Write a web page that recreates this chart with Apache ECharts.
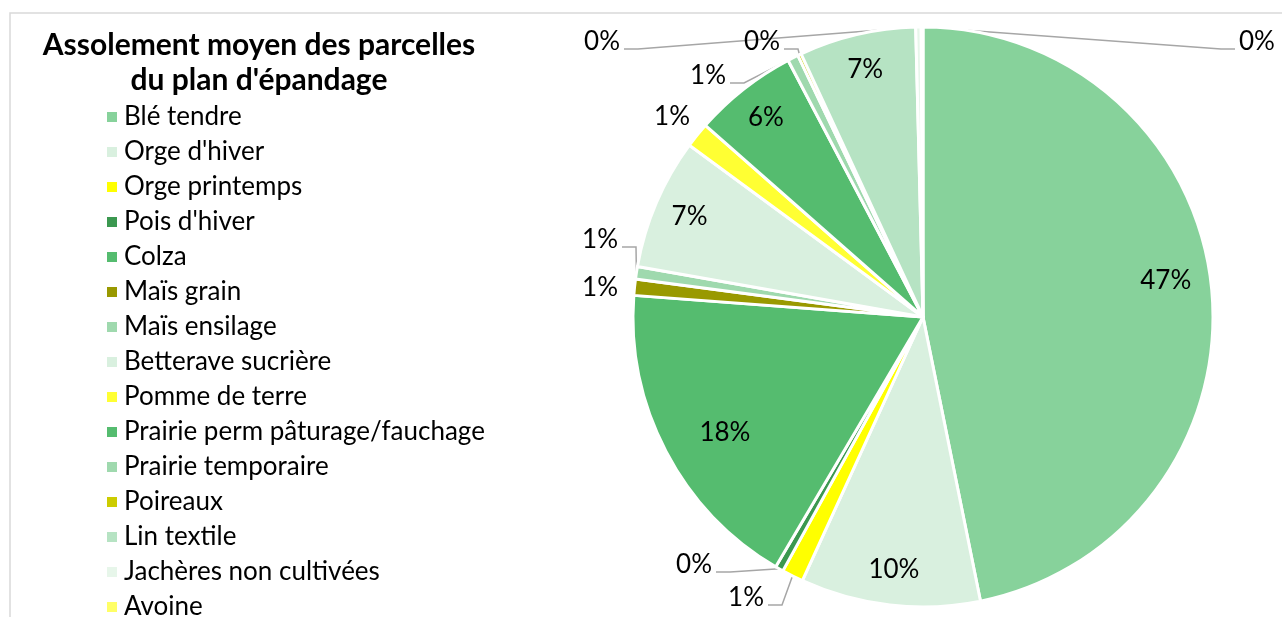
<!DOCTYPE html>
<html>
<head>
<meta charset="utf-8">
<script src="https://cdn.jsdelivr.net/npm/echarts@6/dist/echarts.min.js"></script>
<style>
  html, body { margin: 0; padding: 0; background: #fff; }
  #chart { width: 1282px; height: 617px; }
</style>
</head>
<body>
<div id="chart"></div>
<script>
// cultures du plan d'épandage (ordre Excel, sens horaire depuis midi)
const cultures = ['Blé tendre', "Orge d'hiver", 'Orge printemps', "Pois d'hiver", 'Colza', 'Maïs grain',
  'Maïs ensilage', 'Betterave sucrière', 'Pomme de terre', 'Prairie perm pâturage/fauchage',
  'Prairie temporaire', 'Poireaux', 'Lin textile', 'Jachères non cultivées', 'Avoine'];
// part de la surface en %
const parts = [46.8, 10.0, 1.2, 0.45, 17.7, 0.9, 0.7, 7.3, 1.4, 5.8, 0.6, 0.2, 6.5, 0.3, 0.1];
const couleurs = ['#87d29b', '#d9f0df', '#ffff00', '#3b9850', '#55bc6f', '#999900', '#9fd9ae',
  '#d9f0df', '#ffff33', '#55bc6f', '#9fd9ae', '#cccc00', '#b6e3c3', '#e7f6ea', '#ffff66'];

const FONT = 'Lato';
const grosses = parts.map(v => v >= 3);

// traits de rappel masqués (étiquette collée à la part)
const sansTrait = [5, 8];
// étiquettes placées comme dans Excel : [x, y, côté]
const etiquettes = {
  2: [764, 598, 'left'],
  3: [712, 565, 'left'],
  5: [618, 288, 'left'],
  6: [618, 240, 'left'],
  8: [690, 117, 'left'],
  10: [726, 76, 'left'],
  11: [780, 42, 'left'],
  13: [620, 42, 'left'],
  14: [1239, 42, 'right']
};
// petits décalages des étiquettes intérieures [dx, dy]
const decalages = { 0: [-10, -11], 4: [27, -2] };

let chart = echarts.init(document.getElementById('chart'));

let dataMain = cultures.map((c, i) => ({
  name: c,
  value: parts[i],
  itemStyle: { color: couleurs[i] },
  label: { show: !grosses[i] },
  labelLine: { show: !grosses[i] && sansTrait.indexOf(i) < 0 }
}));
let dataLabels = cultures.map((c, i) => ({
  name: c,
  value: parts[i],
  label: { show: grosses[i] }
}));

chart.setOption({
  animation: false,
  title: {
    text: "Assolement moyen des parcelles\ndu plan d'épandage",
    left: 254,
    top: 23,
    textAlign: 'center',
    textStyle: { fontFamily: FONT, fontWeight: 'bold', fontSize: 30, lineHeight: 35, color: '#000', align: 'center' }
  },
  legend: {
    orient: 'vertical',
    left: 100,
    top: 99,
    height: 900,
    itemWidth: 12,
    itemHeight: 12,
    itemGap: 9,
    icon: 'rect',
    data: cultures,
    textStyle: { fontFamily: FONT, fontSize: 26, lineHeight: 25, color: '#000', padding: [0, 0, 0, 1] }
  },
  graphic: [{
    type: 'polyline',
    shape: { points: [[10, 617], [10, 13], [1282, 13]] },
    style: { stroke: '#d9d9d9', lineWidth: 1.5, fill: null },
    silent: true
  }],
  series: [{
    type: 'pie',
    center: [923, 317],
    radius: [0, 290],
    startAngle: 90,
    clockwise: true,
    data: dataMain,
    itemStyle: { borderColor: '#fff', borderWidth: 3 },
    label: { position: 'outside', formatter: p => Math.round(p.value) + '%', fontFamily: FONT, fontSize: 26, color: '#000' },
    labelLine: { length: 12, length2: 16, lineStyle: { color: '#a6a6a6', width: 1.5 } },
    labelLayout: function (p) {
      const e = etiquettes[p.dataIndex];
      if (!e) return;
      const a = p.labelLinePoints[0];
      const dir = e[2] === 'left' ? 1 : -1;
      const yLigne = e[1] + 7;
      return {
        x: e[0], y: e[1],
        align: e[2] === 'left' ? 'right' : 'left',
        verticalAlign: 'middle',
        labelLinePoints: [a, [e[0] + dir * 18, yLigne], [e[0] + dir * 4, yLigne]]
      };
    },
    emphasis: { disabled: true }
  }, {
    type: 'pie',
    center: [923, 317],
    radius: [212, 290],
    startAngle: 90,
    clockwise: true,
    silent: true,
    data: dataLabels,
    itemStyle: { color: 'rgba(0,0,0,0)' },
    label: { position: 'inside', formatter: p => Math.round(p.value) + '%', fontFamily: FONT, fontSize: 26, color: '#000' },
    labelLine: { show: false },
    labelLayout: function (p) {
      const d = decalages[p.dataIndex];
      if (!d) return;
      return { dx: d[0], dy: d[1] };
    },
    emphasis: { disabled: true }
  }]
});
</script>
</body>
</html>
